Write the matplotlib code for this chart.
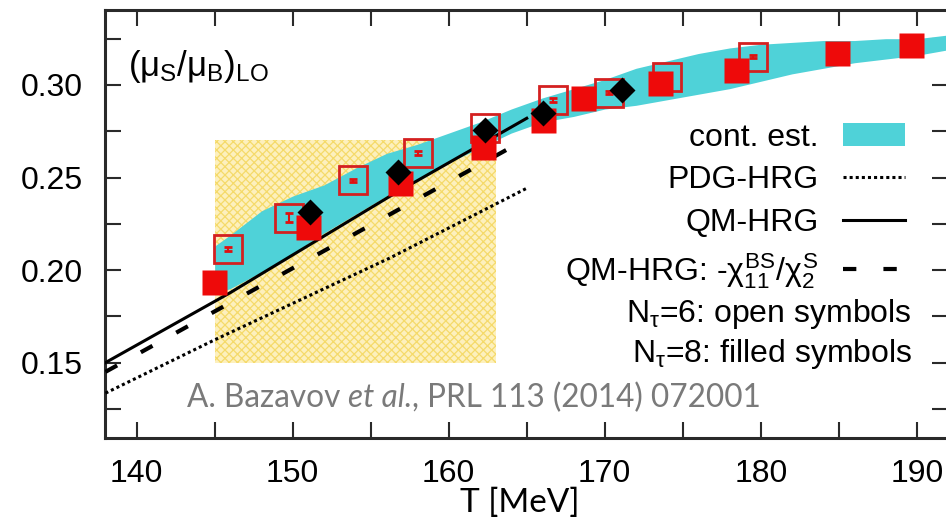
import matplotlib
matplotlib.use("Agg")
import matplotlib.pyplot as plt
from matplotlib.patches import Rectangle
from matplotlib.ticker import MultipleLocator, FormatStrFormatter

# continuum estimate: lower and upper edge of the band
band_T = [145, 146, 148, 150, 152, 154, 156, 158, 160, 162, 164, 166, 168,
          170, 172, 174, 176, 178, 180, 182, 184, 186, 188, 190, 192]
band_lo = [0.187, 0.190, 0.199, 0.209, 0.220, 0.230, 0.240, 0.249, 0.258,
           0.266, 0.274, 0.280, 0.283, 0.287, 0.289, 0.292, 0.295, 0.298,
           0.302, 0.306, 0.309, 0.312, 0.314, 0.316, 0.319]
band_hi = [0.213, 0.219, 0.232, 0.240, 0.246, 0.255, 0.263, 0.268, 0.274,
           0.280, 0.287, 0.293, 0.298, 0.303, 0.309, 0.313, 0.317, 0.320,
           0.322, 0.323, 0.324, 0.324, 0.325, 0.325, 0.327]

# hadron resonance gas curves
pdg_T = [138, 145, 156.2, 165]
pdg_val = [0.1335, 0.1623, 0.2064, 0.2442]
qm_T = [138, 146, 156.2, 165]
qm_val = [0.1500, 0.1878, 0.2397, 0.2820]
qmchi_T = [138, 151.5, 165]
qmchi_val = [0.145, 0.208, 0.271]

# lattice data, N_tau = 6 (open squares)
nt6_T = [145.87, 149.78, 153.88, 158.05, 162.33, 166.71, 170.28, 173.97, 179.53]
nt6_val = [0.2114, 0.2283, 0.2484, 0.2631, 0.2766, 0.2919, 0.2959, 0.3045, 0.3153]
nt6_err = [0.001, 0.0025, 0.001, 0.001, 0.001, 0.001, 0.001, 0.001, 0.001]

# lattice data, N_tau = 8 (filled squares)
nt8_T = [144.96, 151.0, 156.88, 162.2, 166.03, 168.63, 173.54, 178.42, 184.91, 189.63]
nt8_val = [0.1934, 0.2235, 0.2469, 0.2667, 0.2811, 0.2928, 0.3012, 0.3081, 0.3174, 0.3216]

# black diamonds
dia_T = [151.11, 156.77, 162.33, 166.03, 171.09]
dia_val = [0.2316, 0.2532, 0.2757, 0.2847, 0.2973]

# crossover region box
box_T = (145, 163)
box_val = (0.15, 0.27)

plt.rcParams["font.family"] = "Liberation Sans"
plt.rcParams["mathtext.fontset"] = "custom"
plt.rcParams["mathtext.rm"] = "Liberation Sans"
plt.rcParams["mathtext.it"] = "Liberation Sans"
plt.rcParams["mathtext.bf"] = "Liberation Sans:bold"
plt.rcParams["hatch.linewidth"] = 0.9

fig = plt.figure(figsize=(9.46, 5.18), dpi=100)
ax = fig.add_axes([0.1115, 0.1535, 0.8906, 0.8272])

ax.add_patch(Rectangle((box_T[0], box_val[0]), box_T[1] - box_T[0],
                       box_val[1] - box_val[0], facecolor="#fdf0bd",
                       edgecolor="#f5da6a", hatch="xxxx", linewidth=0, zorder=1))

band = ax.fill_between(band_T, band_lo, band_hi, color="#4fd2d8", lw=0,
                       zorder=2, label="cont. est.")

pdg, = ax.plot(pdg_T, pdg_val, color="k", lw=2.2, ls=(0, (1, 1)), zorder=3,
               label="PDG-HRG")
qm, = ax.plot(qm_T, qm_val, color="k", lw=2.2, zorder=3, label="QM-HRG")
qmchi, = ax.plot(qmchi_T, qmchi_val, color="k", lw=3, dashes=(3.2, 6.5),
                 dash_capstyle="butt", zorder=3,
                 label=r"QM-HRG: -$\chi^{BS}_{11}/\chi^{S}_{2}$")

ax.errorbar(nt6_T, nt6_val, yerr=nt6_err, fmt="s", ms=19.5, mfc="none",
            mec="#d42020", mew=2, ecolor="#e01010", elinewidth=1.5,
            capsize=3, zorder=4)
ax.plot(nt8_T, nt8_val, "s", ms=18, color="#ee0a0a", mec="none", zorder=5)
ax.plot(dia_T, dia_val, "D", ms=13.5, color="k", mec="none", zorder=6)

ax.set_xlim(138, 192)
ax.set_ylim(0.109, 0.3405)
ax.xaxis.set_major_locator(MultipleLocator(10))
ax.xaxis.set_minor_locator(MultipleLocator(5))
ax.yaxis.set_major_locator(MultipleLocator(0.05))
ax.yaxis.set_minor_locator(MultipleLocator(0.025))
ax.yaxis.set_major_formatter(FormatStrFormatter("%.2f"))
ax.tick_params(which="both", direction="in", top=True, right=True,
               length=11.5, width=1.5, color="#2a2a2a", labelsize=23)
ax.tick_params(axis="x", pad=15)
ax.tick_params(axis="y", pad=16.5)
for sp in ax.spines.values():
    sp.set_linewidth(2.2)
    sp.set_color("#2a2a2a")

ax.legend(handles=[band, pdg, qm, qmchi], loc="upper right",
          bbox_to_anchor=(0.949, 0.737), frameon=False, markerfirst=False,
          fontsize=23, handlelength=1.95, handletextpad=0.75,
          labelspacing=0.40, borderpad=0, borderaxespad=0)
ax.text(0.957, 0.272, r"$\mathrm{N}_\tau$=6: open symbols", transform=ax.transAxes,
        ha="right", va="baseline", fontsize=23)
ax.text(0.957, 0.1785, r"$\mathrm{N}_\tau$=8: filled symbols", transform=ax.transAxes,
        ha="right", va="baseline", fontsize=23)

ax.text(0.0267, 0.846, r"$(\mu_S/\mu_B)_{LO}$", transform=ax.transAxes,
        ha="left", va="baseline", fontsize=25)

# reference line under the data
cite_kw = dict(fontfamily="Lato", fontsize=22.7, color="#7a7a7a")
t1 = ax.text(0.0964, 0.0742, "A. Bazavov ", transform=ax.transAxes,
             va="baseline", **cite_kw)
t2 = ax.annotate("et al.", xy=(1, 0), xycoords=t1, va="bottom",
                 style="italic", **cite_kw)
ax.annotate(", PRL 113 (2014) 072001", xy=(1, 0), xycoords=t2, va="bottom",
            **cite_kw)

fig.text(0.5497, 0.0125, "T [MeV]", ha="center", va="baseline",
         fontfamily="Lato", fontsize=24)

fig.savefig("out.png", dpi=100)
